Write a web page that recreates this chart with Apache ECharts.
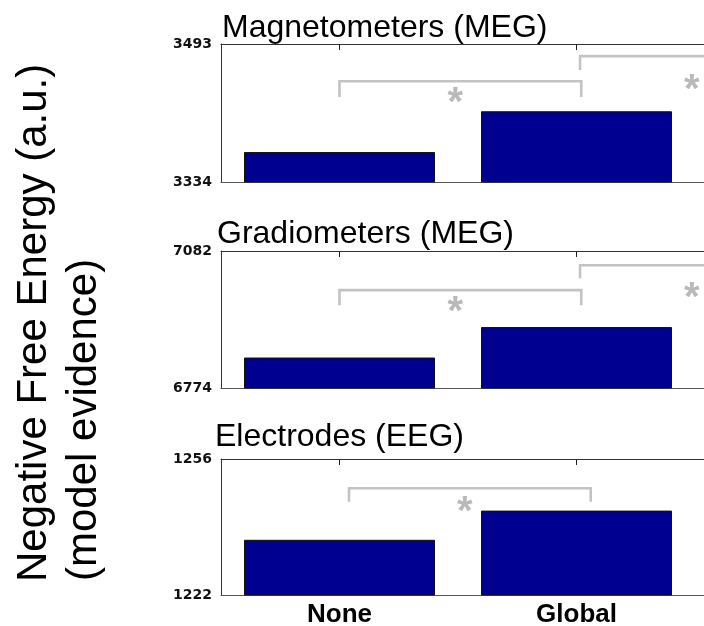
<!DOCTYPE html>
<html>
<head>
<meta charset="utf-8">
<script src="https://cdn.jsdelivr.net/npm/echarts@6/dist/echarts.min.js"></script>
<style>
  html, body { margin: 0; padding: 0; background: #fff; }
  #chart { width: 704px; height: 626px; }
</style>
</head>
<body>
<div id="chart"></div>
<script>
// categories (third condition lies outside the cropped figure)
const categories = ['None', 'Global', ''];

// negative free energy per condition
const magValues = [3368.5, 3415.5, null];
const gradValues = [6842.5, 6911, null];
const eegValues = [1235.8, 1243.1, null];

// y ranges (only min and max are labelled)
const magRange = [3334, 3493];
const gradRange = [6774, 7082];
const eegRange = [1222, 1256];

// significance brackets: [fromCat, toCat, lineValue, legValue, starValue]
const magBrackets = [[0, 1.02, 3450, 3432, 3437], [1.015, 2, 3479, 3463, 3451]];
const gradBrackets = [[0, 1.02, 6994, 6960, 6967], [1.015, 2, 7050, 7021, 7000]];
const eegBrackets = [[0.04, 1.06, 1248.7, 1245.3, 1245.2]];

const panelTitles = ['Magnetometers (MEG)', 'Gradiometers (MEG)', 'Electrodes (EEG)'];
const yTitle1 = 'Negative Free Energy (a.u.)';
const yTitle2 = '(model evidence)';

var chart = echarts.init(document.getElementById('chart'), null, { renderer: 'canvas' });

const grids = [
  { left: 221, top: 44, width: 711, height: 138, outerBoundsMode: 'none' },
  { left: 221, top: 251, width: 711, height: 137, outerBoundsMode: 'none' },
  { left: 221, top: 459, width: 711, height: 136, outerBoundsMode: 'none' }
];
const ranges = [magRange, gradRange, eegRange];
const values = [magValues, gradValues, eegValues];
const brackets = [magBrackets, gradBrackets, eegBrackets];
const titleTops = [12, 218, 421];
const titleLefts = [222, 217, 215];

function renderBracket(params, api) {
  const band = api.size([1, 0])[0];
  const base = api.coord([0, api.value(2)]);
  const xa = base[0] + api.value(0) * band;
  const xb = base[0] + api.value(1) * band;
  const yLine = base[1];
  const yLeg = api.coord([0, api.value(3)])[1];
  const yStar = api.coord([0, api.value(4)])[1];
  return {
    type: 'group',
    children: [{
      type: 'polyline',
      shape: { points: [[xa, yLeg], [xa, yLine], [xb, yLine], [xb, yLeg]] },
      style: { stroke: '#c3c3c3', lineWidth: 2.6, fill: null }
    }, {
      type: 'text',
      x: (xa + xb) / 2 - 5,
      y: yStar + 11,
      style: {
        text: '*',
        font: 'bold 40px "Liberation Sans"',
        fill: '#b9b9b9',
        align: 'center',
        verticalAlign: 'middle'
      }
    }]
  };
}

const xAxes = [];
const yAxes = [];
const series = [];
for (let i = 0; i < 3; i++) {
  xAxes.push({
    type: 'category',
    gridIndex: i,
    position: 'bottom',
    data: categories,
    axisLine: { show: true, lineStyle: { color: '#555', width: 1 } },
    axisTick: { show: false },
    axisLabel: {
      show: i === 2,
      margin: 7,
      fontFamily: 'Liberation Sans',
      fontWeight: 'bold',
      fontSize: 26,
      color: '#000'
    },
    splitLine: { show: false }
  });
  xAxes.push({
    type: 'category',
    gridIndex: i,
    position: 'top',
    data: categories,
    axisLine: { show: true, lineStyle: { color: '#333', width: 1 } },
    axisTick: { show: true, inside: true, length: 6, alignWithLabel: true, lineStyle: { color: '#222' } },
    axisLabel: { show: false },
    splitLine: { show: false }
  });
  yAxes.push({
    type: 'value',
    gridIndex: i,
    min: ranges[i][0],
    max: ranges[i][1],
    axisLine: { show: true, lineStyle: { color: '#333', width: 1 } },
    axisTick: { show: false },
    splitLine: { show: false },
    axisLabel: {
      customValues: ranges[i],
      formatter: function (v) { return String(v); },
      margin: 9,
      padding: [8, 0, 0, 0],
      fontFamily: 'DejaVu Sans',
      fontWeight: 'bold',
      fontSize: 14,
      color: '#111'
    }
  });
  series.push({
    type: 'bar',
    xAxisIndex: i * 2,
    yAxisIndex: i,
    barWidth: 191,
    data: values[i],
    itemStyle: { color: '#000090', borderColor: '#111', borderWidth: 1 },
    silent: true
  });
  series.push({
    type: 'custom',
    xAxisIndex: i * 2,
    yAxisIndex: i,
    dimensions: ['from', 'to', 'line', 'leg', 'star'],
    encode: { x: 'from', y: 'line' },
    renderItem: renderBracket,
    data: brackets[i],
    z: 5,
    silent: true
  });
}

option = {
  backgroundColor: '#fff',
  animation: false,
  title: panelTitles.map(function (t, i) {
    return {
      text: t,
      left: titleLefts[i],
      top: titleTops[i],
      padding: 0,
      textStyle: { fontFamily: 'Liberation Sans', fontWeight: 'normal', fontSize: 32, color: '#000' }
    };
  }),
  grid: grids,
  xAxis: xAxes,
  yAxis: yAxes,
  series: series,
  graphic: [{
    type: 'text',
    x: 34,
    y: 582,
    rotation: Math.PI / 2,
    style: { text: yTitle1, font: '42px "Liberation Sans"', fill: '#000', align: 'left', verticalAlign: 'middle' }
  }, {
    type: 'text',
    x: 84,
    y: 581,
    rotation: Math.PI / 2,
    style: { text: yTitle2, font: '42px "Liberation Sans"', fill: '#000', align: 'left', verticalAlign: 'middle' }
  }]
};

chart.setOption(option);
</script>
</body>
</html>
